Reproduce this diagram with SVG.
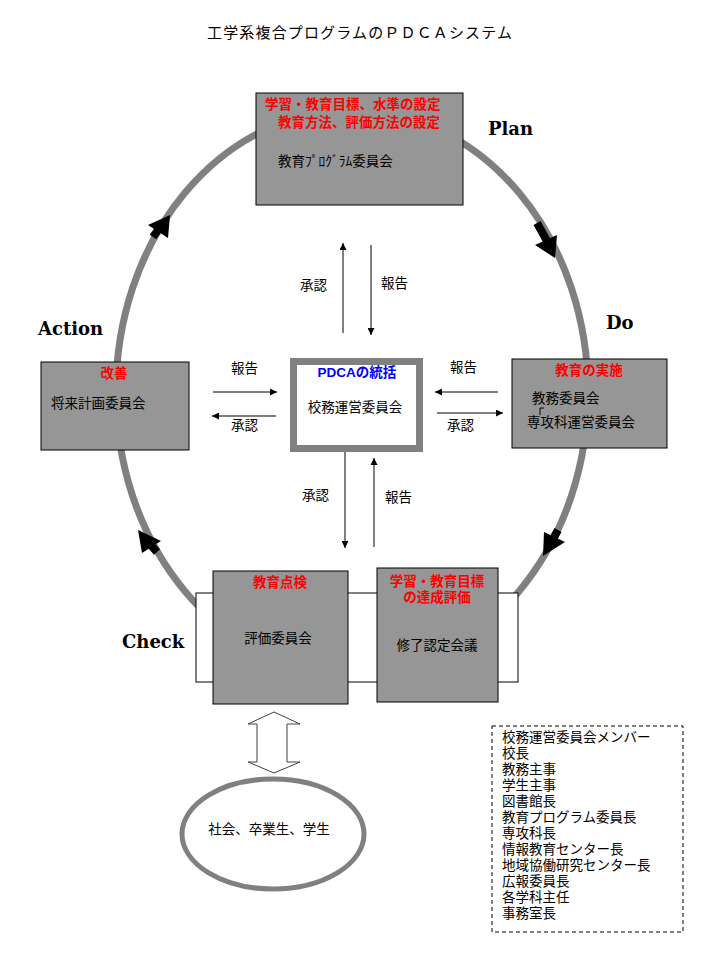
<svg xmlns="http://www.w3.org/2000/svg" width="720" height="960" viewBox="0 0 720 960">
<style>
text{font-family:"Liberation Sans","Noto Sans CJK JP","Noto Sans CJK SC",sans-serif;font-size:13.5px;fill:#000}
.t{font-size:15px}
.r{fill:#ff0000;font-weight:bold}
.b{fill:#0000ff;font-weight:bold}
.lab{font-family:"DejaVu Serif","Liberation Serif",serif;font-weight:bold;font-size:18px}
.box{fill:#969696;stroke:#000;stroke-width:1}
.thin{stroke:#000;stroke-width:1;fill:none}
.shaft{stroke:#000;stroke-width:8}
</style>
<defs>
<marker id="ah" viewBox="0 0 10 10" refX="10" refY="5" markerWidth="9" markerHeight="7" markerUnits="userSpaceOnUse" orient="auto">
<path d="M0,0 L10,5 L0,10 z" fill="#000"/>
</marker>
</defs>
<rect width="720" height="960" fill="#fff"/>
<text class="t" x="207" y="38" textLength="305">工学系複合プログラムのＰＤＣＡシステム</text>

<g id="connectors">
<ellipse cx="352" cy="392" rx="236" ry="282" fill="none" stroke="#808080" stroke-width="7"/>
<line class="shaft" x1="537" y1="223" x2="547" y2="241"/>
<polygon points="555,258 557,235 535,245" fill="#000"/>
<line class="shaft" x1="558" y1="530" x2="553" y2="539"/>
<polygon points="543,556 565,542 544,532" fill="#000"/>
<line class="shaft" x1="157" y1="552" x2="150" y2="544"/>
<polygon points="138,530 161,541 142,553" fill="#000"/>
<line class="shaft" x1="153" y1="237" x2="158" y2="230"/>
<polygon points="170,215 148,225 168,238" fill="#000"/>

<line class="thin" x1="343" y1="333" x2="343" y2="243" marker-end="url(#ah)"/>
<line class="thin" x1="371" y1="245" x2="371" y2="335" marker-end="url(#ah)"/>
<line class="thin" x1="345" y1="432" x2="345" y2="548" marker-end="url(#ah)"/>
<line class="thin" x1="374" y1="547" x2="374" y2="458" marker-end="url(#ah)"/>
<line class="thin" x1="213" y1="392" x2="277" y2="392" marker-end="url(#ah)"/>
<line class="thin" x1="276" y1="416" x2="212" y2="416" marker-end="url(#ah)"/>
<line class="thin" x1="498" y1="392" x2="435" y2="392" marker-end="url(#ah)"/>
<line class="thin" x1="437" y1="413" x2="503" y2="413" marker-end="url(#ah)"/>
<path d="M274,712 L300,724 L287,724 L287,762 L300,762 L274,773 L248,762 L257,762 L257,724 L248,724 Z" fill="#fff" stroke="#404040" stroke-width="1"/>
<text x="300" y="290">承認</text>
<text x="381" y="288">報告</text>
<text x="302" y="500">承認</text>
<text x="385" y="502">報告</text>
<text x="231" y="373">報告</text>
<text x="231" y="430">承認</text>
<text x="450" y="372">報告</text>
<text x="447" y="430">承認</text>
</g>

<text class="lab" x="488" y="135">Plan</text>
<text class="lab" x="38" y="335">Action</text>
<text class="lab" x="606" y="329">Do</text>
<text class="lab" x="122" y="648">Check</text>

<g id="plan">
<rect class="box" x="256" y="93" width="207" height="112"/>
<text class="r" x="265" y="109">学習・教育目標、水準の設定</text>
<text class="r" x="278" y="127">教育方法、評価方法の設定</text>
<text x="278" y="166">教育ﾌﾟﾛｸﾞﾗﾑ委員会</text>
</g>

<g id="action">
<rect class="box" x="41" y="362" width="148" height="88"/>
<text class="r" x="114" y="378" text-anchor="middle">改善</text>
<text x="51" y="408">将来計画委員会</text>
</g>

<g id="center">
<rect x="293.5" y="361.5" width="126" height="87" fill="#fff" stroke="#808080" stroke-width="7"/>
<text class="b" x="357" y="377" text-anchor="middle">PDCAの統括</text>
<text x="355" y="412" text-anchor="middle">校務運営委員会</text>
</g>

<g id="do">
<rect class="box" x="512" y="359" width="155" height="89"/>
<text class="r" x="589" y="375" text-anchor="middle">教育の実施</text>
<text x="532" y="403">教務委員会</text>
<path d="M544,408 H540 V415" class="thin"/>
<text x="527" y="427">専攻科運営委員会</text>
</g>

<g id="check">
<rect x="196" y="593" width="322" height="89" fill="#fff" stroke="#000" stroke-width="1"/>
<rect class="box" x="213" y="571" width="135" height="133"/>
<text class="r" x="280" y="587" text-anchor="middle">教育点検</text>
<text x="278" y="643" text-anchor="middle">評価委員会</text>
<rect class="box" x="377" y="568" width="121" height="134"/>
<text class="r" x="437" y="586" text-anchor="middle">学習・教育目標</text>
<text class="r" x="437" y="601.5" text-anchor="middle">の達成評価</text>
<text x="437" y="650" text-anchor="middle">修了認定会議</text>
</g>

<g id="society">
<ellipse cx="273" cy="834" rx="91" ry="55" fill="#fff" stroke="#808080" stroke-width="5"/>
<text x="269" y="834" text-anchor="middle">社会、卒業生、学生</text>
</g>

<g id="legend">
<rect x="492" y="726" width="191" height="206" fill="none" stroke="#000" stroke-width="1" stroke-dasharray="4,3"/>
<text x="502" y="742">校務運営委員会メンバー</text>
<text x="502" y="758">校長</text>
<text x="502" y="774">教務主事</text>
<text x="502" y="790">学生主事</text>
<text x="502" y="806">図書館長</text>
<text x="502" y="822">教育プログラム委員長</text>
<text x="502" y="838">専攻科長</text>
<text x="502" y="854">情報教育センター長</text>
<text x="502" y="870">地域協働研究センター長</text>
<text x="502" y="886">広報委員長</text>
<text x="502" y="902">各学科主任</text>
<text x="502" y="918">事務室長</text>
</g>
</svg>
